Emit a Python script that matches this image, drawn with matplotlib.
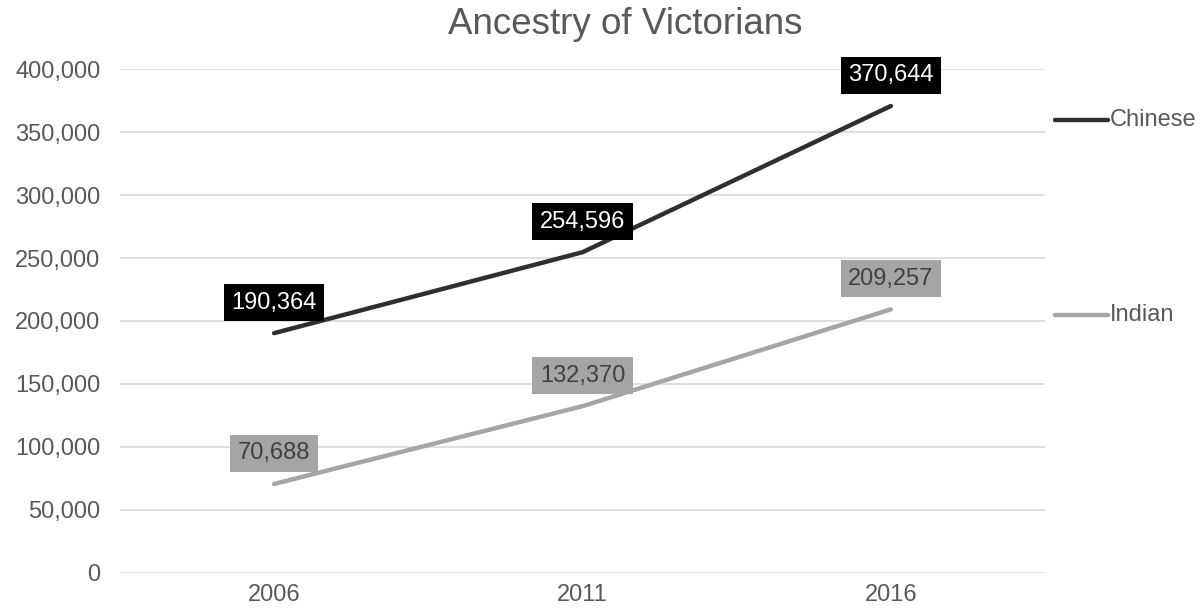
import matplotlib
matplotlib.use("Agg")
import matplotlib.pyplot as plt
from matplotlib.lines import Line2D

plt.rcParams['font.family'] = ['Liberation Sans', 'DejaVu Sans']

years = ["2006", "2011", "2016"]
chinese = [190364, 254596, 370644]
indian = [70688, 132370, 209257]
yticks = [0, 50000, 100000, 150000, 200000, 250000, 300000, 350000, 400000]

c_dark = "#2E2E33"
c_light = "#A5A5A5"
txt = "#595959"

fig = plt.figure(figsize=(12.02, 6.14), dpi=100)
ax = fig.add_axes([0.0998, 0.0668, 0.7696, 0.8208])

x = list(range(len(years)))
ax.plot(x, chinese, color=c_dark, lw=3.2, solid_capstyle="round", zorder=3)
ax.plot(x, indian, color=c_light, lw=3.2, solid_capstyle="round", zorder=3)

for xi, v in zip(x, chinese):
    ax.annotate(f"{v:,}", (xi, v), xytext=(0, 22), textcoords="offset points",
                ha="center", va="center", fontsize=17, color="white", zorder=4,
                bbox=dict(boxstyle="square,pad=0.32", fc="black", ec="none"))
for xi, v in zip(x, indian):
    ax.annotate(f"{v:,}", (xi, v), xytext=(0, 22), textcoords="offset points",
                ha="center", va="center", fontsize=17, color="#404040", zorder=4,
                bbox=dict(boxstyle="square,pad=0.32", fc=c_light, ec="none"))

ax.set_xlim(-0.5, 2.5)
ax.set_ylim(0, 400000)
ax.set_yticks(yticks)
ax.set_yticklabels([f"{t:,}" for t in yticks])
ax.set_xticks(x)
ax.set_xticklabels(years)
ax.tick_params(axis="both", length=0, labelsize=17, labelcolor=txt)
ax.tick_params(axis="y", pad=14)
ax.tick_params(axis="x", pad=8)
ax.grid(axis="y", color="#D9D9D9", lw=1.2)
ax.set_axisbelow(True)
for s in ax.spines.values():
    s.set_visible(False)

fig.text(0.52, 0.96, "Ancestry of Victorians", ha="center", va="center",
         fontsize=26.5, color=txt)

# legend drawn by hand on the right
for y_px, col, name in [(120, c_dark, "Chinese"), (315, c_light, "Indian")]:
    yf = 1 - y_px / 614
    fig.add_artist(Line2D([1055 / 1202, 1108 / 1202], [yf, yf], color=col, lw=3.2,
                          solid_capstyle="round", transform=fig.transFigure))
    fig.text(1110 / 1202, yf, name, ha="left", va="center", fontsize=17, color=txt)

fig.savefig("out.png", dpi=100)
